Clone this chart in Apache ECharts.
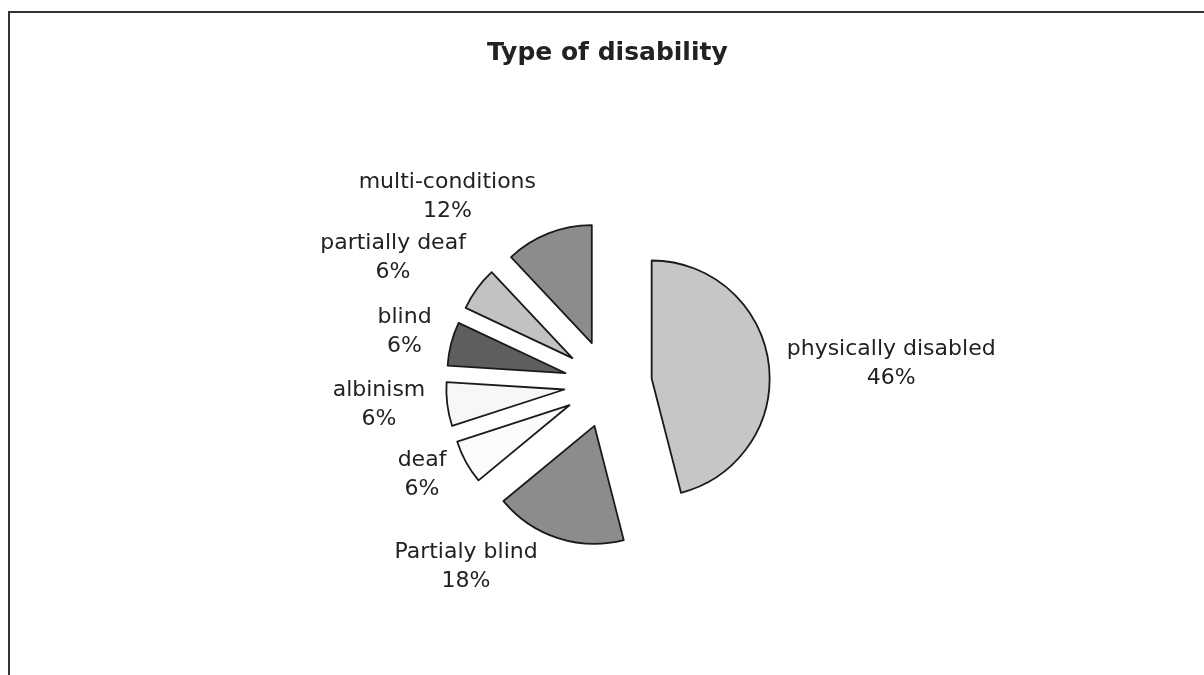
<!DOCTYPE html>
<html>
<head>
<meta charset="utf-8">
<script src="https://cdn.jsdelivr.net/npm/echarts@6/dist/echarts.min.js"></script>
<style>
html,body{margin:0;padding:0;background:#fff;}
#chart{width:1204px;height:675px;position:absolute;left:0;top:0;}
#frame{position:absolute;left:8px;top:11px;width:1196px;height:664px;border-top:2px solid #333;border-left:2px solid #333;pointer-events:none;}
</style>
</head>
<body>
<div id="chart"></div>
<div id="frame"></div>
<script>
const titleText = 'Type of disability';
const categories = ['physically disabled', 'Partialy blind', 'deaf', 'albinism', 'blind', 'partially deaf', 'multi-conditions'];
const values = [46, 18, 6, 6, 6, 6, 12];
const colors = ['#c6c6c6', '#8c8c8c', '#fbfbfb', '#f7f7f7', '#5e5e5e', '#c2c2c2', '#8c8c8c'];
// label line lengths (hidden lines) used only to place the outside labels
const lineLen = [0, 30, 27, 0, 48, 52, 39];
const lineLen2 = [18, 11, -4, 22, -27, -31, -2];

const chart = echarts.init(document.getElementById('chart'), null, {renderer: 'canvas'});
const data = categories.map((name, i) => ({
  name: name,
  value: values[i],
  selected: true,
  itemStyle: {color: colors[i]},
  labelLine: {show: false, length: lineLen[i], length2: lineLen2[i]}
}));

chart.setOption({
  animation: false,
  backgroundColor: '#ffffff',
  title: {
    text: titleText,
    left: 482,
    top: 36,
    textStyle: {fontFamily: 'DejaVu Sans', fontSize: 25, fontWeight: 'bold', color: '#222'}
  },
  series: [{
    type: 'pie',
    center: [608, 384],
    radius: 118,
    startAngle: 90,
    clockwise: true,
    selectedMode: 'multiple',
    selectedOffset: 44,
    avoidLabelOverlap: false,
    emphasis: {disabled: true},
    select: {itemStyle: {borderColor: '#1a1a1a', borderWidth: 1.8}},
    itemStyle: {borderColor: '#1a1a1a', borderWidth: 1.8},
    label: {
      show: true,
      position: 'outside',
      distanceToLabelLine: 0,
      formatter: p => p.name + '\n' + Math.round(p.percent) + '%',
      fontFamily: 'DejaVu Sans',
      fontSize: 22,
      lineHeight: 29,
      color: '#222'
    },
    labelLine: {show: false},
    labelLayout: function (params) {
      const w = params.labelRect.width;
      const sign = params.align === 'right' ? -1 : (params.align === 'left' ? 1 : 0);
      return {align: 'center', dx: sign * w / 2};
    },
    data: data
  }]
});
</script>
</body>
</html>
